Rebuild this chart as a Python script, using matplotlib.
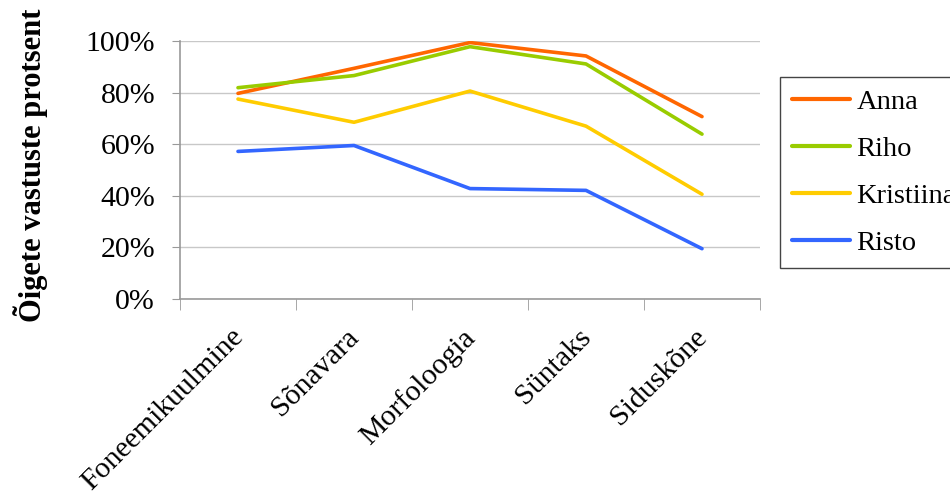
import matplotlib
matplotlib.use("Agg")
import matplotlib.pyplot as plt
from matplotlib.ticker import FixedLocator, PercentFormatter
from matplotlib.transforms import ScaledTranslation

categories = ["Foneemikuulmine", "Sõnavara", "Morfoloogia", "Süntaks", "Siduskõne"]
series_names = ["Anna", "Riho", "Kristiina", "Risto"]
anna = [79.7, 89.4, 99.4, 94.2, 70.7]
riho = [81.9, 86.6, 97.8, 91.1, 63.9]
kristiina = [77.5, 68.5, 80.6, 67.0, 40.6]
risto = [57.2, 59.5, 42.8, 42.1, 19.5]
yticks = [0, 20, 40, 60, 80, 100]
ylabel = "Õigete vastuste protsent"

colors = ["#FF6600", "#99CC00", "#FFCC00", "#3366FF"]

plt.rcParams['font.family'] = ['Liberation Serif', 'DejaVu Serif']

fig = plt.figure(figsize=(9.5, 4.96), dpi=100)
ax = fig.add_axes([180/950, 1-299/496, 580/950, 258/496])

x = list(range(len(categories)))
for name, vals, c in zip(series_names, [anna, riho, kristiina, risto], colors):
    ax.plot(x, vals, color=c, lw=2.6, label=name, solid_capstyle='round', zorder=3)

ax.set_xlim(-0.5, len(categories) - 0.5)
ax.set_ylim(0, 100)
ax.set_yticks(yticks)
ax.yaxis.set_major_formatter(PercentFormatter(decimals=0))
ax.grid(axis='y', color='#C8C8C8', lw=1)
ax.set_axisbelow(True)

ax.set_xticks(x)
ax.set_xticklabels([])
off = ScaledTranslation(-8/100, -25/100, fig.dpi_scale_trans)
for i, cat in enumerate(categories):
    ax.text(i, 0, cat, transform=ax.get_xaxis_transform() + off, rotation=45,
            ha='right', va='top', rotation_mode='anchor', fontsize=21.5)
ax.xaxis.set_minor_locator(FixedLocator([i - 0.5 for i in range(len(categories) + 1)]))
ax.tick_params(axis='x', which='major', length=0)
ax.tick_params(axis='x', which='minor', length=8, color='#999999', direction='out')
ax.tick_params(axis='y', length=6, color='#999999', direction='out', pad=12, labelsize=21.5)

for s in ['top', 'right']:
    ax.spines[s].set_visible(False)
for s in ['left', 'bottom']:
    ax.spines[s].set_color('#999999')
    ax.spines[s].set_linewidth(1.2)

ax.set_ylabel(ylabel, fontsize=22, fontweight='bold')
ax.yaxis.set_label_coords(-0.228, 0.52)

leg = fig.legend(loc='upper left', bbox_to_anchor=(780/950, 1-77/496), fontsize=20.5,
                 frameon=True, fancybox=False, edgecolor='#444444', framealpha=1,
                 handlelength=2.05, handletextpad=0.22, labelspacing=0.74,
                 borderpad=0.42, borderaxespad=0)
leg.get_frame().set_linewidth(1.0)
for h in leg.get_lines():
    h.set_linewidth(3)

fig.savefig("out.png", dpi=100)
